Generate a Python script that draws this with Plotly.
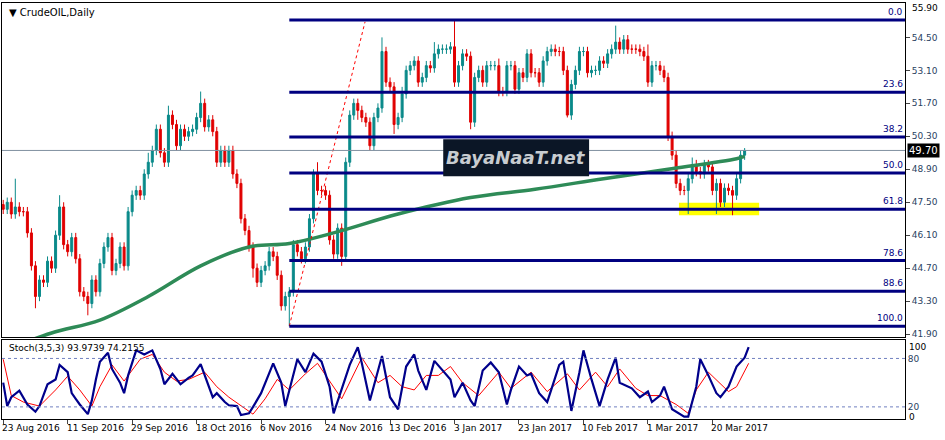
import plotly.graph_objects as go

# ---------------- data ----------------
closes = [47.2,47.5,47.0,47.3,47.1,47.1,46.2,44.8,43.5,44.2,44.1,45.0,44.7,46.1,47.3,45.7,45.4,46.0,45.1,43.7,
          43.5,43.2,44.2,43.7,44.9,45.6,46.0,44.6,44.9,45.6,44.8,47.1,47.8,48.0,47.8,48.7,49.2,49.7,50.6,49.6,
          49.2,51.2,50.8,49.9,50.6,50.3,50.5,50.6,51.1,51.7,50.7,51.0,50.5,49.2,49.7,49.2,49.7,48.7,48.3,46.8,
          46.3,45.6,44.7,44.1,44.6,44.8,45.4,45.2,44.4,43.1,43.5,43.7,45.7,45.4,45.1,45.6,46.8,48.7,48.0,48.0,
          47.8,45.9,45.3,46.4,45.2,49.2,51.2,51.7,51.4,51.1,50.9,49.9,51.1,51.5,53.9,52.6,52.4,50.8,51.1,52.1,
          53.1,53.3,53.5,52.6,52.8,53.3,53.2,53.8,54.0,54.0,54.0,54.1,52.6,53.3,53.8,53.7,50.9,52.8,53.1,52.6,
          53.3,53.3,53.3,52.2,52.2,53.3,53.3,52.3,53.0,52.8,53.8,53.0,53.0,52.6,53.5,53.9,54.0,53.9,53.9,53.1,
          51.2,52.5,53.1,53.9,53.9,53.0,53.1,53.1,53.5,53.4,53.8,54.0,54.3,54.0,54.4,54.0,54.0,54.0,53.9,53.7,
          52.6,53.3,53.3,53.1,52.8,50.3,49.5,48.3,48.0,48.0,48.5,49.1,48.8,48.7,49.1,49.0,48.0,48.3,47.5,48.1,
          48.0,47.8,48.5,49.5,49.7]
first_open = 47.4
high_override = {3: 48.5, 14: 47.8, 41: 51.6, 49: 52.2, 78: 49.2, 94: 54.5, 112: 55.2, 152: 55.0, 36: 49.6,
                 99: 52.4, 107: 54.3, 123: 53.6, 160: 54.2, 171: 49.4, 184: 49.8}
low_override = {8: 43.0, 21: 42.7, 71: 42.24, 84: 44.8, 97: 50.4, 116: 50.6, 140: 51.1, 170: 47.0,
                177: 47.0, 181: 46.95, 62: 44.3, 69: 42.9, 88: 51.0}

ma_bars = [0, 12, 24, 36, 49, 61, 71, 82, 98, 116, 132, 149, 165, 182, 184]
ma_vals = [41.2, 41.95, 42.5, 43.5, 44.8, 45.6, 45.75, 46.2, 47.0, 47.7, 48.05, 48.5, 48.9, 49.35, 49.45]

k_bars = [0,1,2,4,6,8,9,11,13,14,16,17,18,19,21,22,23,24,26,27,29,30,31,33,35,37,39,40,42,44,46,47,49,50,52,53,55,56,58,59,
          61,62,64,67,69,70,73,75,77,79,81,82,84,86,88,89,91,94,96,98,100,102,103,105,107,109,111,112,114,116,117,119,121,123,125,126,128,130,131,133,
          135,136,138,139,141,143,144,146,148,150,152,153,156,158,160,161,163,164,166,169,170,172,173,175,177,178,180,182,184,185]
k_vals = [50,21,32,40,23,14,21,48,54,72,63,37,30,23,11,28,54,76,87,67,50,37,59,90,85,90,67,48,61,48,56,59,73,59,32,37,26,22,21,10,
          12,20,37,74,50,21,79,63,86,76,45,12,41,72,94,74,28,83,32,17,70,85,65,41,77,65,54,32,50,28,21,65,75,63,23,41,70,59,61,37,
          26,41,72,76,15,63,90,54,21,54,81,50,43,32,39,26,34,45,17,8,8,45,79,59,37,32,45,70,81,94]
d_bars = [0,2,5,9,13,16,19,22,24,27,30,34,37,40,43,46,50,53,56,59,62,65,68,71,75,78,81,84,89,93,96,99,102,105,108,111,114,118,123,126,
          131,135,140,143,147,150,153,157,160,163,167,170,172,175,180,182,185]
d_vals = [79,34,26,21,41,58,41,21,45,72,52,79,85,63,52,54,63,45,32,21,11,30,54,41,61,74,52,30,81,50,59,45,41,59,59,70,50,34,63,43,
          63,39,61,41,63,45,67,43,34,34,23,12,41,63,39,45,74]

fib_high, fib_low = 55.24, 42.24
fib_levels = [0.0, 23.6, 38.2, 50.0, 61.8, 78.6, 88.6, 100.0]
fib_start_bar = 71
trend_end_bar, trend_end_price = 89.8, 55.16
last_price = 49.70
zone_bars = (167.7, 187.6)
zone_prices = (46.95, 47.48)

tick_labels = ["23 Aug 2016","11 Sep 2016","29 Sep 2016","18 Oct 2016","6 Nov 2016","24 Nov 2016",
               "13 Dec 2016","3 Jan 2017","23 Jan 2017","10 Feb 2017","1 Mar 2017","20 Mar 2017"]
tick_bars = [0,16,32,48,64,80,96,112,128,144,160,176]
price_ticks = [55.90,54.50,53.10,51.70,50.30,48.90,47.50,46.10,44.70,43.30,41.90]

# ---------------- build ----------------
n = len(closes)
bars = list(range(n))
opens = [first_open] + closes[:-1]
highs, lows = [], []
for i in bars:
    hi = max(opens[i], closes[i]) + 0.2
    lo = min(opens[i], closes[i]) - 0.2
    highs.append(high_override.get(i, hi))
    lows.append(low_override.get(i, lo))

FONT = "DejaVu Sans"
NAVY = "#000080"
fig = go.Figure()
fig.add_trace(go.Candlestick(x=bars, open=opens, high=highs, low=lows, close=closes,
    increasing=dict(line=dict(color="#0a8a8a", width=1), fillcolor="#0a8a8a"),
    decreasing=dict(line=dict(color="#e00000", width=1), fillcolor="#e00000"),
    whiskerwidth=0, xaxis="x", yaxis="y", hoverinfo="skip"))
fig.add_trace(go.Scatter(x=ma_bars, y=ma_vals, mode="lines", line=dict(color="#2e8b57", width=3.5, shape="spline"),
                         xaxis="x", yaxis="y", hoverinfo="skip"))
fig.add_trace(go.Scatter(x=[fib_start_bar, trend_end_bar], y=[fib_low, trend_end_price], mode="lines",
                         line=dict(color="#ff0000", width=1, dash="dot"), xaxis="x", yaxis="y"))
fig.add_trace(go.Scatter(x=d_bars, y=d_vals, mode="lines", line=dict(color="#ff0000", width=1),
                         xaxis="x2", yaxis="y2"))
fig.add_trace(go.Scatter(x=k_bars, y=k_vals, mode="lines", line=dict(color="#00008b", width=2.2),
                         xaxis="x2", yaxis="y2"))

XR = [-0.3, 223.8]
shapes, ann = [], []
shapes.append(dict(type="rect", xref="x", yref="y", x0=zone_bars[0], x1=zone_bars[1], y0=zone_prices[0], y1=zone_prices[1],
                   fillcolor="#ffff00", line=dict(width=0), layer="below"))
for lv in fib_levels:
    p = fib_high - (fib_high - fib_low) * lv / 100
    shapes.append(dict(type="line", xref="x", yref="y", x0=fib_start_bar, x1=XR[1], y0=p, y1=p,
                       line=dict(color=NAVY, width=3)))
    ann.append(dict(x=1, xref="paper", xanchor="right", y=p, yref="y", yanchor="bottom", yshift=1,
                    text="%.1f" % lv, showarrow=False, font=dict(family=FONT, size=9, color=NAVY)))
shapes.append(dict(type="line", xref="paper", yref="y", x0=0, x1=1, y0=last_price, y1=last_price,
                   line=dict(color="#8090a0", width=1)))
for v in (20, 80):
    shapes.append(dict(type="line", xref="paper", yref="y2", x0=0, x1=1, y0=v, y1=v,
                       line=dict(color="#7080c0", width=1, dash="dot")))
shapes.append(dict(type="rect", xref="x", yref="y", x0=109.2, x1=145.4, y0=48.6, y1=50.17,
                   fillcolor="#0b1626", line=dict(width=0)))
ann.append(dict(x=127.3, y=49.4, xref="x", yref="y", text="<i><b>BayaNaaT.net</b></i>", showarrow=False,
                font=dict(family="DejaVu Sans", size=18, color="#c8ccd0")))
ann.append(dict(x=1, xref="paper", xanchor="left", y=last_price, yref="y", text="49.70", showarrow=False,
                bgcolor="#000000", font=dict(family=FONT, size=10, color="#ffffff"), xshift=2, borderpad=1))
ann.append(dict(x=1, xref="paper", xanchor="left", y=1, yref="paper", yanchor="top", text="%.2f" % price_ticks[0],
                showarrow=False, xshift=5, yshift=2, font=dict(family=FONT, size=9, color="#000")))
ann.append(dict(x=0.005, xref="paper", y=1, yref="paper", xanchor="left", yanchor="top", yshift=-2,
                text="▼ CrudeOIL,Daily", showarrow=False, font=dict(family=FONT, size=10, color="#000")))
ann.append(dict(x=0.005, xref="paper", y=0.187, yref="paper", xanchor="left", yanchor="top",
                text="Stoch(3,5,3) 93.9739 74.2155", showarrow=False, font=dict(family=FONT, size=9, color="#000")))
for v, t in ((94, "100"), (7, "0")):
    ann.append(dict(x=1, xref="paper", xanchor="left", y=v, yref="y2", text=t, showarrow=False, xshift=2,
                    font=dict(family=FONT, size=9, color="#000")))
for b, t in zip(tick_bars, tick_labels):
    ann.append(dict(x=b, xref="x", y=0, yref="paper", xanchor="left", yanchor="top", yshift=-2, text=t, showarrow=False,
                    xshift=-3, font=dict(family=FONT, size=9, color="#000")))

fig.update_layout(
    width=945, height=440, margin=dict(l=2, r=40, t=3, b=21),
    paper_bgcolor="white", plot_bgcolor="white", showlegend=False,
    shapes=shapes, annotations=ann,
    xaxis=dict(domain=[0, 1], range=XR, showgrid=False, showticklabels=False, zeroline=False,
               rangeslider=dict(visible=False), showline=True, linecolor="#000", mirror=True, anchor="y"),
    yaxis=dict(domain=[0.1966, 1], range=[41.77, 55.96], side="right", tickvals=price_ticks[1:],
               ticktext=["%.2f" % v for v in price_ticks[1:]], showgrid=False, zeroline=False, ticks="outside",
               ticklen=4, showline=True, linecolor="#000", mirror=True, tickfont=dict(family=FONT, size=9)),
    xaxis2=dict(domain=[0, 1], range=XR, showgrid=False, showticklabels=False, zeroline=False, anchor="y2",
                showline=True, linecolor="#000", mirror=True, ticks="outside", tickvals=tick_bars, ticklen=4),
    yaxis2=dict(domain=[0, 0.1894], range=[5, 102.6], side="right", tickvals=[20, 80],
                showgrid=False, zeroline=False, showline=True, linecolor="#000", mirror=True, anchor="x2",
                ticks="", tickfont=dict(family=FONT, size=9)),
)
fig.write_html("out.html", config={"displayModeBar": False},
               post_script="document.body.style.margin='0';window.dispatchEvent(new Event('resize'));")
